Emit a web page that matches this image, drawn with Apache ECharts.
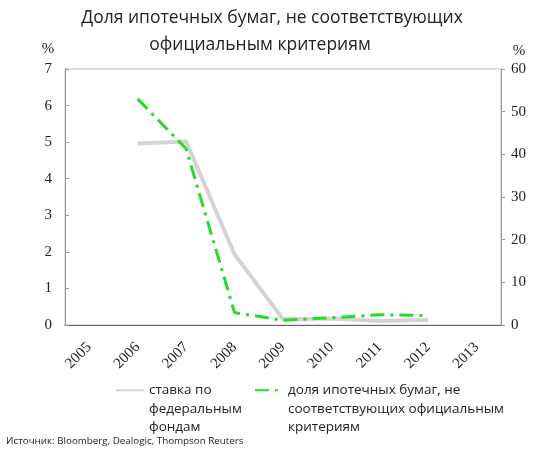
<!DOCTYPE html>
<html>
<head>
<meta charset="utf-8">
<script src="https://cdn.jsdelivr.net/npm/echarts@6/dist/echarts.min.js"></script>
<style>
  html, body { margin: 0; padding: 0; background: #fff; }
  #chart { width: 550px; height: 451px; }
</style>
</head>
<body>
<div id="chart"></div>
<script>
var years = ['2005', '2006', '2007', '2008', '2009', '2010', '2011', '2012', '2013'];
// ставка по федеральным фондам, % (левая ось)
var fedRate = [null, 4.96, 5.02, 1.93, 0.16, 0.18, 0.11, 0.14, null];
// доля ипотечных бумаг, не соответствующих критериям, % (правая ось)
var nonConforming = [null, 53.0, 41.3, 2.9, 1.1, 1.7, 2.4, 2.2, null];
var leftTicks = [0, 7, 1];
var rightTicks = [0, 60, 10];

var titleLines = ['Доля ипотечных бумаг, не соответствующих', 'официальным критериям'];
var nameFed = 'ставка по федеральным фондам';
var nameShare = 'доля ипотечных бумаг, не соответствующих официальным критериям';
// two blank lines in front so the first real line sits level with the icon
var legendText = {};
legendText[nameFed] = '\n\nставка по\nфедеральным\nфондам';
legendText[nameShare] = '\n\nдоля ипотечных бумаг, не\nсоответствующих официальным\nкритериям';

var serif = 'Liberation Serif';
var sans = 'Open Sans';

var legendBase = {
  orient: 'vertical',
  top: 344,
  padding: 0,
  itemWidth: 28,
  itemHeight: 10,
  itemStyle: { opacity: 0 },
  formatter: function (n) { return legendText[n]; },
  textStyle: {
    fontFamily: sans,
    fontSize: 13.5,
    color: '#222',
    lineHeight: 18.5
  }
};

var titleStyle = {
  fontFamily: sans,
  fontSize: 17.5,
  fontWeight: 'normal',
  color: '#222'
};

var myChart = echarts.init(document.getElementById('chart'));
myChart.setOption({
  backgroundColor: '#fff',
  animation: false,
  title: [{
    text: titleLines[0],
    left: 267,
    top: 4,
    textAlign: 'center',
    textStyle: titleStyle
  }, {
    text: titleLines[1],
    left: 255,
    top: 31,
    textAlign: 'center',
    textStyle: titleStyle
  }],
  legend: [
    Object.assign({}, legendBase, { left: 115, data: [nameFed] }),
    Object.assign({}, legendBase, { left: 254, data: [nameShare] })
  ],
  grid: {
    left: 65,
    right: 49,
    top: 69,
    bottom: 126,
    show: true,
    borderColor: '#c0c0c0',
    borderWidth: 1
  },
  xAxis: {
    type: 'category',
    data: years,
    boundaryGap: true,
    axisLine: { lineStyle: { color: '#666' } },
    axisTick: { inside: true, length: 4, lineStyle: { color: '#999' } },
    axisLabel: {
      rotate: 45,
      margin: 20,
      fontFamily: serif,
      fontSize: 15,
      color: '#222'
    },
    splitLine: { show: false }
  },
  yAxis: [{
    type: 'value',
    min: leftTicks[0],
    max: leftTicks[1],
    interval: leftTicks[2],
    name: '%',
    nameLocation: 'end',
    nameGap: 12,
    nameTextStyle: { fontFamily: serif, fontSize: 15, color: '#222', padding: [0, 34, 0, 0] },
    axisLine: { show: true, lineStyle: { color: '#999' } },
    axisTick: { show: true, inside: true, length: 4, lineStyle: { color: '#999' } },
    axisLabel: { fontFamily: serif, fontSize: 15, color: '#222', margin: 13 },
    splitLine: { show: false }
  }, {
    type: 'value',
    position: 'right',
    min: rightTicks[0],
    max: rightTicks[1],
    interval: rightTicks[2],
    name: '%',
    nameLocation: 'end',
    nameGap: 10,
    nameTextStyle: { fontFamily: serif, fontSize: 15, color: '#222', padding: [0, 0, 0, 36] },
    axisLine: { show: true, lineStyle: { color: '#999' } },
    axisTick: { show: true, inside: false, length: 4, lineStyle: { color: '#999' } },
    axisLabel: { fontFamily: serif, fontSize: 15, color: '#222', margin: 10 },
    splitLine: { show: false }
  }],
  series: [{
    name: nameFed,
    type: 'line',
    yAxisIndex: 0,
    data: fedRate,
    showSymbol: false,
    symbol: 'none',
    lineStyle: { color: '#d4d4d4', width: 4 },
    itemStyle: { color: '#d4d4d4' },
    z: 2
  }, {
    name: nameShare,
    type: 'line',
    yAxisIndex: 1,
    data: nonConforming,
    showSymbol: false,
    symbol: 'none',
    lineStyle: { color: '#22dd22', width: 3, type: [14, 6, 3, 6] },
    itemStyle: { color: '#22dd22' },
    z: 3
  }],
  graphic: [{
    type: 'text',
    left: 6,
    top: 436,
    style: {
      text: 'Источник: Bloomberg, Dealogic, Thompson Reuters',
      fontFamily: sans,
      fontSize: 9.8,
      fill: '#222'
    }
  }]
});
</script>
</body>
</html>
